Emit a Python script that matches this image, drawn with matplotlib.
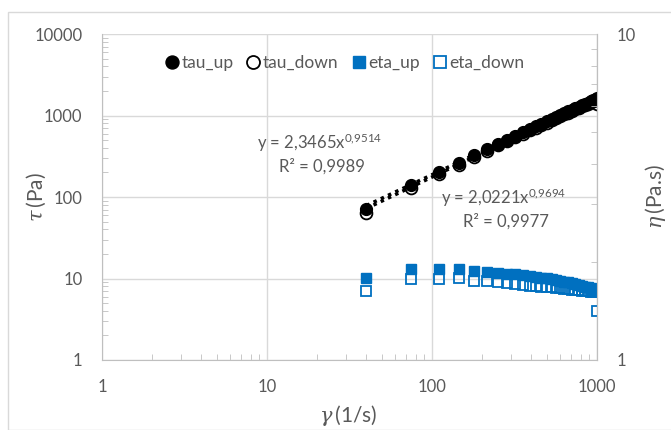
import numpy as np
import matplotlib.pyplot as plt
from matplotlib.patches import Rectangle

plt.rcParams['font.family'] = ['Lato', 'DejaVu Sans']
plt.rcParams['mathtext.fontset'] = 'dejavuserif'

# shear rate (1/s)
shear_rate = [40, 75, 110, 145, 180, 215, 250, 285, 320, 355, 390, 425, 460, 495,
              530, 565, 600, 635, 670, 705, 740, 775, 810, 845, 880, 915, 950, 985, 1000]

# shear stress (Pa)
tau_up = [72, 140, 205, 265, 330, 390, 450, 505, 560, 620, 680, 735, 790, 845,
          900, 955, 1010, 1065, 1120, 1170, 1225, 1280, 1330, 1385, 1440, 1490, 1545, 1595, 1620]
tau_down = [63, 128, 190, 250, 312, 372, 430, 485, 540, 598, 655, 710, 765, 818,
            870, 925, 978, 1030, 1082, 1135, 1188, 1240, 1290, 1342, 1395, 1445, 1495, 1545, 1400]

# viscosity (Pa.s), right axis
eta_up = [1.79, 1.90, 1.90, 1.90, 1.87, 1.86, 1.85, 1.84, 1.83, 1.82, 1.81, 1.80, 1.79, 1.78,
          1.77, 1.76, 1.75, 1.74, 1.73, 1.72, 1.71, 1.70, 1.69, 1.68, 1.67, 1.66, 1.65, 1.645, 1.64]
eta_down = [1.63, 1.77, 1.77, 1.78, 1.75, 1.75, 1.73, 1.72, 1.71, 1.70, 1.69, 1.685, 1.68, 1.675,
            1.67, 1.665, 1.66, 1.655, 1.65, 1.645, 1.64, 1.635, 1.63, 1.63, 1.625, 1.62, 1.62, 1.62, 1.41]

# power-law trendlines shown on the chart (a, b, R2)
fit_up = (2.3465, 0.9514, 0.9989)
fit_down = (2.0221, 0.9694, 0.9977)

blue = '#0070C0'
grey = '#595959'
grid = '#D9D9D9'
W, H = 671, 430
L, R, T, B = 102, 597, 34, 360


def dec(v):
    return ('%g' % v).replace('.', ',')


fig = plt.figure(figsize=(W / 100, H / 100), dpi=100)
fig.patches.append(Rectangle((8 / W, 0), 1, 1 - 12 / H, transform=fig.transFigure,
                             fill=False, edgecolor='#D9D9D9', lw=1))
ax = fig.add_axes([L / W, 1 - B / H, (R - L) / W, (B - T) / H])
ax2 = ax.twinx()

ax.set_xscale('log')
ax.set_yscale('log')
ax2.set_yscale('log')
ax.set_xlim(1, 1000)
ax.set_ylim(1, 10000)
ax2.set_ylim(1, 10)

x = np.array(shear_rate, dtype=float)
xf = np.linspace(x[0], x[-1], 200)
for a, b, _ in (fit_up, fit_down):
    ax.plot(xf, a * xf ** b, ls=(0, (1, 1.3)), color='black', lw=2.5, zorder=2)

ax.plot(x, tau_up, 'o', color='black', ms=8.5, zorder=3, label='tau_up')
ax.plot(x, tau_down, 'o', mfc='none', mec='black', mew=1.3, ms=8.5, zorder=3, label='tau_down')
ax2.plot(x, eta_up, 's', color=blue, ms=7.5, label='eta_up')
ax2.plot(x, eta_down, 's', mfc='none', mec=blue, mew=1.3, ms=7.5, label='eta_down')

for s in ['left', 'bottom', 'right']:
    ax.spines[s].set_color('#BFBFBF')
    ax2.spines[s].set_color('#BFBFBF')
ax.spines['top'].set_visible(False)
ax2.spines['top'].set_visible(False)
ax2.spines['left'].set_visible(False)
ax2.spines['bottom'].set_visible(False)

ax.grid(True, which='major', color=grid, lw=1)
ax.set_axisbelow(True)

ax.set_xticks([1, 10, 100, 1000])
ax.set_xticklabels(['1', '10', '100', '1000'])
ax.set_yticks([1, 10, 100, 1000, 10000])
ax.set_yticklabels(['1', '10', '100', '1000', '10000'])
ax2.set_yticks([1, 10])
ax2.set_yticklabels(['1', '10'])

ax.tick_params(which='major', length=0, labelsize=12, labelcolor=grey, pad=14)
ax.tick_params(which='minor', direction='in', length=4, color='#BFBFBF')
ax.tick_params(axis='y', which='minor', labelleft=False)
ax.tick_params(axis='x', which='minor', labelbottom=False)
ax2.tick_params(which='major', length=0, labelsize=12, labelcolor=grey, pad=14)
ax2.tick_params(which='minor', direction='in', length=4, color='#BFBFBF', labelright=False)

ax.set_ylabel(r'$\tau\,$(Pa)', fontsize=15, color=grey, ha='center', va='center')
ax2.set_ylabel(r'$\eta\,$(Pa.s)', fontsize=15, color=grey, ha='center', va='center')
ax.set_xlabel(r'$\gamma\,$(1/s)', fontsize=15, color=grey, ha='center', va='center')
ax.yaxis.set_label_coords((36 - L) / (R - L), 0.5)
ax2.yaxis.set_label_coords((655 - L) / (R - L), 0.5)
ax.xaxis.set_label_coords((348 - L) / (R - L), (B - 416) / (B - T))


def note(px, py, s):
    fig.text(px / W, 1 - py / H, s, ha='center', va='center', fontsize=12, color=grey)


note(320, 143, r'y = %sx$^{\mathregular{%s}}$' % (dec(fit_up[0]), dec(fit_up[1]).replace(',', '{,}')))
note(322, 166, 'R² = %s' % dec(fit_up[2]))
note(504, 198, r'y = %sx$^{\mathregular{%s}}$' % (dec(fit_down[0]), dec(fit_down[1]).replace(',', '{,}')))
note(506, 221, 'R² = %s' % dec(fit_down[2]))

h1, l1 = ax.get_legend_handles_labels()
h2, l2 = ax2.get_legend_handles_labels()
ax.legend(h1 + h2, l1 + l2, loc='center', bbox_to_anchor=((345 - L) / (R - L), (B - 63) / (B - T)),
          ncol=4, frameon=False, fontsize=12.5, labelcolor=grey, handlelength=0.7,
          handletextpad=0.2, columnspacing=0.8, borderaxespad=0, borderpad=0, markerscale=1.1)

fig.savefig('out.png', dpi=100)
